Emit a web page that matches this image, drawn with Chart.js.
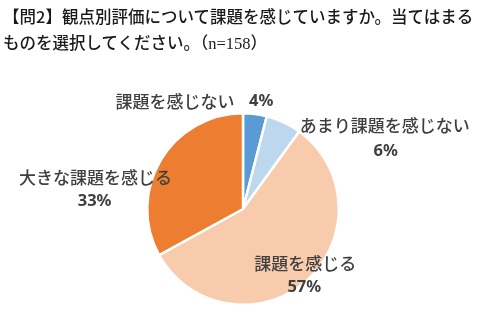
<!DOCTYPE html>
<html><head><meta charset="utf-8">
<script src="https://cdn.jsdelivr.net/npm/chart.js@4"></script>
<style>
html,body{margin:0;padding:0;background:#fff;}
#wrap{position:relative;width:481px;height:322px;overflow:hidden;}
#c{position:absolute;left:0;top:0;}
#title{position:absolute;left:3px;top:3px;font-family:"Noto Sans CJK JP";font-weight:500;font-size:16.5px;line-height:26px;color:#1a1a1a;white-space:nowrap;}
.serif{font-family:"Liberation Serif";font-weight:normal;font-size:16.5px;}
</style></head>
<body>
<div id="wrap">
<canvas id="c" width="481" height="322"></canvas>
<div id="title">【問2】観点別評価について課題を感じていますか。当てはまる<br>ものを選択してください。（<span class="serif">n=158</span>）</div>
</div>
<script>
const categories = ["課題を感じない", "あまり課題を感じない", "課題を感じる", "大きな課題を感じる"];
const values = [4, 6, 57, 33];
const pctLabels = ["4%", "6%", "57%", "33%"];
const colors = ["#5B9BD5", "#BDD7EE", "#F8CBAD", "#ED7D31"];

// label layout: offsets from pie centre in units of radius (name, pct)
const nameOffsets = [[-0.71, -1.12], [1.48, -0.87], [0.65, 0.57], [-1.54, -0.33]];
const pctOffsets  = [[0.19, -1.12], [1.49, -0.60], [0.64, 0.82], [-1.55, -0.08]];

const labelPlugin = {
  id: 'labels',
  afterDraw(chart) {
    const ctx = chart.ctx;
    const arcs = chart.getDatasetMeta(0).data;
    ctx.save();
    ctx.fillStyle = '#404040';
    ctx.textBaseline = 'middle';
    ctx.textAlign = 'center';
    arcs.forEach((a, i) => {
      const r = a.outerRadius;
      const cx = a.x, cy = a.y;
      ctx.font = '500 17px "Noto Sans CJK JP"';
      ctx.fillText(categories[i], cx + nameOffsets[i][0] * r, cy + nameOffsets[i][1] * r);
      ctx.font = 'bold 16.5px "Noto Sans", "Noto Sans CJK JP"';
      ctx.fillText(pctLabels[i], cx + pctOffsets[i][0] * r, cy + pctOffsets[i][1] * r);
    });
    ctx.restore();
  }
};

new Chart(document.getElementById('c'), {
  type: 'pie',
  data: {
    labels: categories,
    datasets: [{
      data: values,
      backgroundColor: colors,
      borderColor: '#ffffff',
      borderWidth: 2.5
    }]
  },
  options: {
    responsive: false,
    animation: false,
    devicePixelRatio: 1,
    layout: { padding: { top: 112, bottom: 16, left: 5, right: 0 } },
    plugins: { legend: { display: false }, tooltip: { enabled: false }, title: { display: false } }
  },
  plugins: [labelPlugin]
});
</script>
</body></html>
